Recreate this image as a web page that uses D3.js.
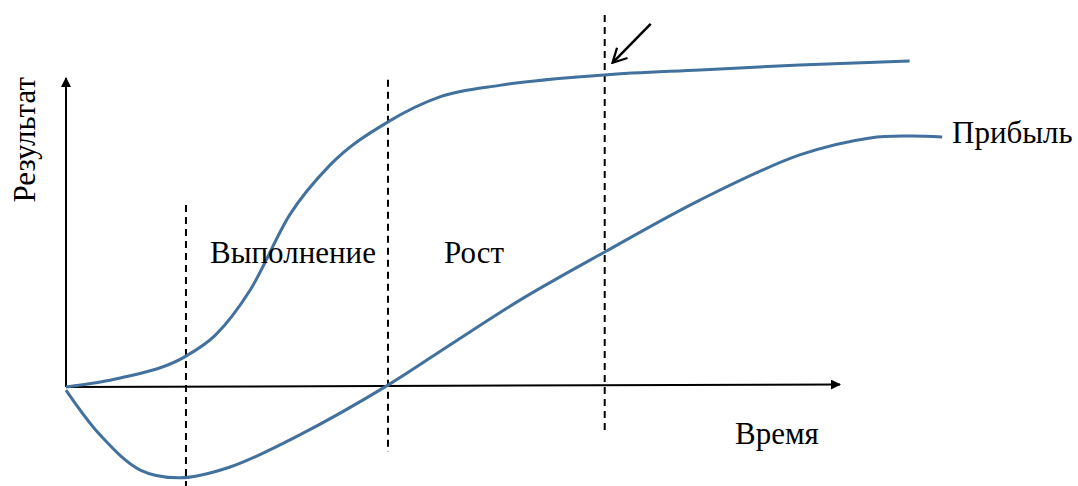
<!DOCTYPE html>
<html>
<head>
<meta charset="utf-8">
<script src="https://cdn.jsdelivr.net/npm/d3@7"></script>
<style>
  body { margin: 0; background: #fff; }
</style>
</head>
<body>
<svg class="chart" width="1078" height="486"></svg>
<script>
// time units on x, result units on y
const resultT = [0, 7, 15.5, 19.3, 23.8, 28.9, 34.1, 41.6, 48.3, 56.2, 69.6, 81.9, 94.8, 109];
const resultV = [0, 2.9, 10, 16.8, 31.4, 55.7, 71.8, 85.8, 93.9, 97.7, 101, 102.6, 104.2, 105.5];

const profitT = [0, 4.4, 9.6, 14.7, 21.2, 30.2, 41.6, 49.6, 58.7, 69.6, 81.9, 94.8, 103.9, 109, 113.2];
const profitV = [-1, -15.5, -26.9, -29.4, -25.9, -15.5, 0.6, 13.6, 28.2, 43.7, 60.5, 75.1, 80.6, 81.2, 80.9];

// phase boundaries (x) and vertical extent of each dashed line
const phaseT = [15.5, 41.6, 69.6];
const phaseTop = [58.9, 99.4, 120.4];
const phaseBottom = [-32, -21, -13.9];

const phaseLabels = ["Выполнение", "Рост"];
const yLabel = "Результат";
const xLabel = "Время";
const seriesLabel = "Прибыль";

const width = 1078;
const height = 486;
const svg = d3.select(".chart");
const serif = "Liberation Serif";

const x = d3.scaleLinear().domain([0, 100]).range([66, 840]);
const y = d3.scaleLinear().domain([0, 100]).range([387, 78]);

const blue = "#41719c";

const defs = svg.append("defs");
defs.append("marker")
  .attr("id", "tri")
  .attr("viewBox", "0 0 10 10")
  .attr("refX", 9)
  .attr("refY", 5)
  .attr("markerWidth", 5)
  .attr("markerHeight", 5)
  .attr("markerUnits", "strokeWidth")
  .attr("orient", "auto")
  .append("path")
  .attr("d", "M0,0 L10,5 L0,10 Z")
  .attr("fill", "#000");

defs.append("marker")
  .attr("id", "open")
  .attr("viewBox", "0 0 10 10")
  .attr("refX", 8)
  .attr("refY", 5)
  .attr("markerWidth", 7)
  .attr("markerHeight", 7)
  .attr("markerUnits", "strokeWidth")
  .attr("orient", "auto")
  .append("path")
  .attr("d", "M1,0.8 L9,5 L1,9.2")
  .attr("fill", "none")
  .attr("stroke", "#000")
  .attr("stroke-width", 1.3);

// axes
svg.append("line")
  .attr("x1", x(0)).attr("y1", y(0))
  .attr("x2", x(0)).attr("y2", y(100))
  .attr("stroke", "#000").attr("stroke-width", 2)
  .attr("marker-end", "url(#tri)");

svg.append("line")
  .attr("x1", x(0)).attr("y1", y(0))
  .attr("x2", x(100)).attr("y2", y(0.8))
  .attr("stroke", "#000").attr("stroke-width", 2)
  .attr("marker-end", "url(#tri)");

// dashed phase lines
svg.selectAll(".phase")
  .data(phaseT)
  .enter()
  .append("line")
  .attr("class", "phase")
  .attr("x1", d => x(d)).attr("x2", d => x(d))
  .attr("y1", (d, i) => y(phaseTop[i]))
  .attr("y2", (d, i) => y(phaseBottom[i]))
  .attr("stroke", "#000")
  .attr("stroke-width", 2)
  .attr("stroke-dasharray", "7,5");

const line = d3.line()
  .x(d => x(d[0]))
  .y(d => y(d[1]))
  .curve(d3.curveMonotoneX);

svg.append("path")
  .datum(resultT.map((t, i) => [t, resultV[i]]))
  .attr("d", line)
  .attr("fill", "none")
  .attr("stroke", blue)
  .attr("stroke-width", 3);

svg.append("path")
  .datum(profitT.map((t, i) => [t, profitV[i]]))
  .attr("d", d3.line().x(d => x(d[0])).y(d => y(d[1])).curve(d3.curveCatmullRom.alpha(0.5)))
  .attr("fill", "none")
  .attr("stroke", blue)
  .attr("stroke-width", 3);

// pointer arrow at the third boundary
svg.append("line")
  .attr("x1", x(phaseT[2]) + 46).attr("y1", y(117.5))
  .attr("x2", x(phaseT[2]) + 9).attr("y2", y(105.3))
  .attr("stroke", "#000").attr("stroke-width", 2.5)
  .attr("marker-end", "url(#open)");

// labels
function label(txt, px, py, anchor) {
  return svg.append("text")
    .attr("x", px)
    .attr("y", py)
    .attr("text-anchor", anchor || "start")
    .attr("font-family", serif)
    .attr("font-size", 31)
    .attr("fill", "#000")
    .text(txt);
}

label(yLabel, 0, 0, "middle")
  .attr("transform", `translate(35, ${y(80)}) rotate(-90)`);

label(phaseLabels[0], 210, 263);
label(phaseLabels[1], 444, 263);
label(xLabel, 735, 444);
label(seriesLabel, 952, 143);
</script>
</body>
</html>
